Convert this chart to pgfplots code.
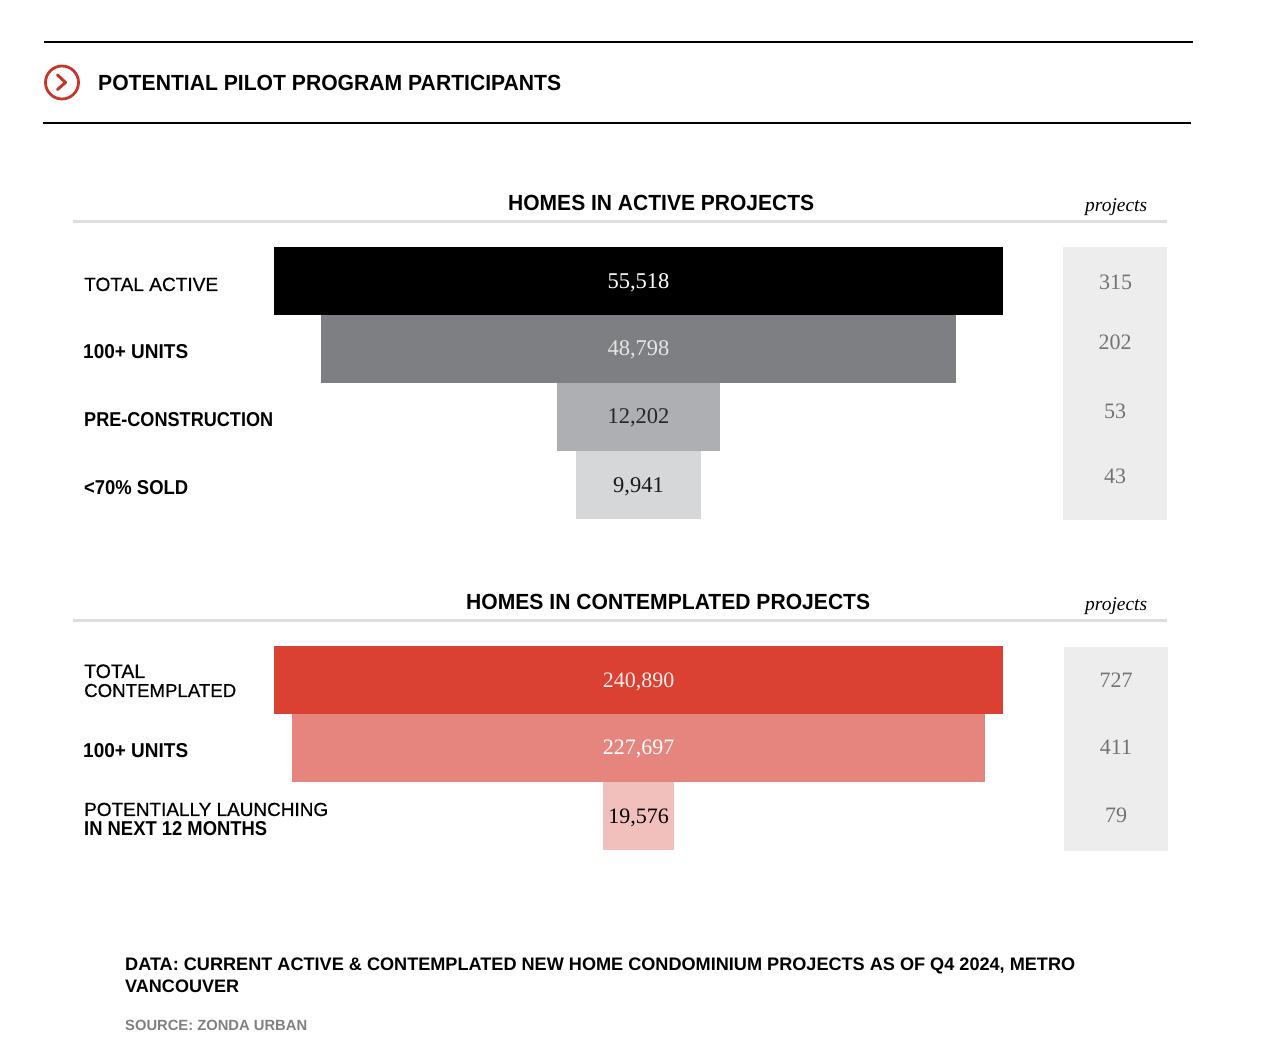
\documentclass[border=0pt]{standalone}
\usepackage{pgfplots}
\pgfplotsset{compat=1.18}
\usepackage{graphicx}
\usepackage{fontspec}
\setmainfont{Liberation Sans}
\newfontfamily\serif{Liberation Serif}
\newfontfamily\reg[FakeBold=0.6]{Liberation Sans}
\definecolor{redc}{HTML}{DA4133}
\definecolor{ring}{HTML}{C8352B}
\newcommand{\fitw}[2]{\resizebox{#1pt}{!}{#2}}
\newcommand{\fitwh}[3]{\resizebox{#1pt}{#2pt}{#3}}
\begin{document}
\begin{tikzpicture}
\useasboundingbox (0,0) rectangle (1280pt,1061pt);
\begin{scope}[x=1pt,y=-1pt,shift={(0pt,1061pt)}]
% header
\draw[black,line width=1.5pt] (43.5,42) -- (1193,42);
\draw[black,line width=1.5pt] (43,123) -- (1191,123);
\draw[ring,line width=2.8pt] (62,82.5) circle (16.5);
\draw[ring,line width=3pt,line cap=round,line join=round] (57.5,75) -- (65.5,82.5) -- (57.5,89.5);
\node[anchor=base west,inner sep=0pt] at (98,90.5) {\fitwh{463}{15.3}{\bfseries\fontsize{21}{24}\selectfont POTENTIAL PILOT PROGRAM PARTICIPANTS}};
% grey rules
\draw[black!13,line width=2.4pt] (73,221.5) -- (1167,221.5);
\draw[black!13,line width=2.4pt] (73,620.5) -- (1167,620.5);
% section titles
\node[anchor=base west,inner sep=0pt] at (508,210.5) {\fitwh{306}{15.3}{\bfseries\fontsize{20}{24}\selectfont HOMES IN ACTIVE PROJECTS}};
\node[anchor=base west,inner sep=0pt] at (466,609.5) {\fitwh{404}{15.3}{\bfseries\fontsize{20}{24}\selectfont HOMES IN CONTEMPLATED PROJECTS}};
\node[anchor=base west,inner sep=0pt] at (1085,212) {\fitw{62}{\serif\itshape\fontsize{21}{24}\selectfont projects}};
\node[anchor=base west,inner sep=0pt] at (1085,611) {\fitw{62}{\serif\itshape\fontsize{21}{24}\selectfont projects}};
% project panels
\fill[black!7] (1063,247) rectangle (1167,520);
\fill[black!7] (1064,647) rectangle (1168,851);
\foreach \xp/\yp/\tx in {1115.5/290/315,1115/350/202,1115/419/53,1115/484/43,1116/688/727,1116/755/411,1116/823/79}
  \node[anchor=base,inner sep=0pt,text=black!55] at (\xp,\yp) {\serif\fontsize{22}{24}\selectfont \tx};
% row labels
\node[anchor=base west,inner sep=0pt] at (84,291) {\fitw{134}{\reg\fontsize{19}{22}\selectfont TOTAL ACTIVE}};
\node[anchor=base west,inner sep=0pt] at (83,359) {\fitwh{105}{14}{\bfseries\fontsize{19}{22}\selectfont 100+ UNITS}};
\node[anchor=base west,inner sep=0pt] at (84,427) {\fitwh{189}{14}{\bfseries\fontsize{19}{22}\selectfont PRE-CONSTRUCTION}};
\node[anchor=base west,inner sep=0pt] at (84,495) {\fitwh{104}{14}{\bfseries\fontsize{19}{22}\selectfont <70\% SOLD}};
\node[anchor=base west,inner sep=0pt] at (84,678) {\fitw{61}{\reg\fontsize{19}{22}\selectfont TOTAL}};
\node[anchor=base west,inner sep=0pt] at (84,697) {\fitw{152}{\reg\fontsize{19}{22}\selectfont CONTEMPLATED}};
\node[anchor=base west,inner sep=0pt] at (83,758) {\fitwh{105}{14}{\bfseries\fontsize{19}{22}\selectfont 100+ UNITS}};
\node[anchor=base west,inner sep=0pt] at (84,816) {\fitw{244}{\reg\fontsize{19}{22}\selectfont POTENTIALLY LAUNCHING}};
\node[anchor=base west,inner sep=0pt] at (84,836) {\fitwh{183}{14}{\bfseries\fontsize{19}{22}\selectfont IN NEXT 12 MONTHS}};
% footer
\node[anchor=base west,inner sep=0pt] at (125,970) {\fitw{950}{\bfseries\fontsize{19}{22}\selectfont DATA: CURRENT ACTIVE \& CONTEMPLATED NEW HOME CONDOMINIUM PROJECTS AS OF Q4 2024, METRO}};
\node[anchor=base west,inner sep=0pt] at (125,992) {\fitw{114}{\bfseries\fontsize{19}{22}\selectfont VANCOUVER}};
\node[anchor=base west,inner sep=0pt,text=black!50] at (125,1030) {\fitw{182}{\bfseries\fontsize{16}{19}\selectfont SOURCE: ZONDA URBAN}};
\end{scope}
% active funnel
\begin{axis}[at={(274pt,814pt)},anchor=north west,scale only axis,width=729pt,height=272pt,
  hide axis,xmin=-27759,xmax=27759,ymin=0,ymax=4,y dir=reverse]
\addplot[fill=black,draw=none] coordinates {(-27759,0)(27759,0)(27759,1)(-27759,1)} -- cycle;
\addplot[fill={rgb,255:red,126;green,127;blue,131},draw=none] coordinates {(-24200,1)(24200,1)(24200,2)(-24200,2)} -- cycle;
\addplot[fill={rgb,255:red,173;green,175;blue,178},draw=none] coordinates {(-6207,2)(6207,2)(6207,3)(-6207,3)} -- cycle;
\addplot[fill={rgb,255:red,214;green,215;blue,217},draw=none] coordinates {(-4760,3)(4760,3)(4760,4)(-4760,4)} -- cycle;
\node[anchor=base,inner sep=0pt,text=white] at (axis cs:0,0.603) {\serif\fontsize{22.5}{24}\selectfont 55,518};
\node[anchor=base,inner sep=0pt,text=white!90!black] at (axis cs:0,1.596) {\serif\fontsize{22.5}{24}\selectfont 48,798};
\node[anchor=base,inner sep=0pt,text=black!85] at (axis cs:0,2.589) {\serif\fontsize{22.5}{24}\selectfont 12,202};
\node[anchor=base,inner sep=0pt,text=black!90] at (axis cs:0,3.603) {\serif\fontsize{22.5}{24}\selectfont 9,941};
\end{axis}
% contemplated funnel
\begin{axis}[at={(274pt,415pt)},anchor=north west,scale only axis,width=729pt,height=204pt,
  hide axis,xmin=-120445,xmax=120445,ymin=0,ymax=3,y dir=reverse]
\addplot[fill=redc,draw=none] coordinates {(-120445,0)(120445,0)(120445,1)(-120445,1)} -- cycle;
\addplot[fill={rgb,255:red,229;green,133;blue,126},draw=none] coordinates {(-114490,1)(114490,1)(114490,2)(-114490,2)} -- cycle;
\addplot[fill={rgb,255:red,242;green,192;blue,188},draw=none] coordinates {(-11730,2)(11730,2)(11730,3)(-11730,3)} -- cycle;
\node[anchor=base,inner sep=0pt,text=white!92!red] at (axis cs:0,0.603) {\serif\fontsize{22}{24}\selectfont 240,890};
\node[anchor=base,inner sep=0pt,text=white] at (axis cs:0,1.589) {\serif\fontsize{22}{24}\selectfont 227,697};
\node[anchor=base,inner sep=0pt,text=black] at (axis cs:0,2.603) {\serif\fontsize{22}{24}\selectfont 19,576};
\end{axis}
\end{tikzpicture}
\end{document}
